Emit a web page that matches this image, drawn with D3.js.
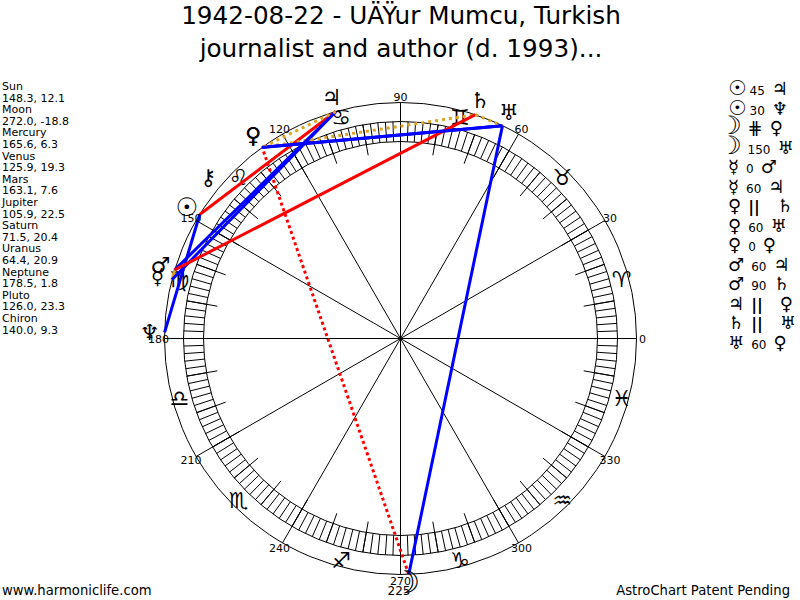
<!DOCTYPE html>
<html>
<head>
<meta charset="utf-8">
<script src="https://cdn.jsdelivr.net/npm/d3@7"></script>
<style>
html, body { margin: 0; padding: 0; background: #fff; overflow: hidden; }
text { font-family: "DejaVu Sans", sans-serif; fill: #000; }
</style>
</head>
<body>
<div id="chart"></div>
<script>
var titleLines = ["1942-08-22 - UÄŸur Mumcu, Turkish", "journalist and author (d. 1993)..."];

// Planets
var planetNames = ["Sun", "Moon", "Mercury", "Venus", "Mars", "Jupiter", "Saturn", "Uranus", "Neptune", "Pluto", "Chiron"];
var planetGlyphs = ["☉", "☽", "☿", "♀", "♂", "♃", "♄", "♅", "♆", "♀", "⚷"];
var longitudes = [148.3, 272.0, 165.6, 125.9, 163.1, 105.9, 71.5, 64.4, 178.5, 126.0, 140.0];
var latitudes = [12.1, -18.8, 6.3, 19.3, 7.6, 22.5, 20.4, 20.9, 1.8, 23.3, 9.3];

// Zodiac signs, one every 30 degrees starting from 15
var signGlyphs = ["♈", "♉", "♊", "♋", "♌", "♍", "♎", "♏", "♐", "♑", "♒", "♓"];

// Aspects: first planet, second planet, kind
var aspectFrom = ["Sun", "Sun", "Moon", "Moon", "Mercury", "Mercury", "Venus", "Venus", "Venus", "Mars", "Mars", "Jupiter", "Saturn", "Uranus"];
var aspectTo = ["Jupiter", "Neptune", "Venus", "Uranus", "Mars", "Jupiter", "Saturn", "Uranus", "Pluto", "Jupiter", "Saturn", "Pluto", "Uranus", "Pluto"];
var aspectKind = ["45", "30", "#", "150", "0", "60", "||", "60", "0", "60", "90", "||", "||", "60"];

var degreeLabels = d3.range(0, 360, 30);

var width = 800, height = 600;
var cx = 400.5, cy = 338.5;
var outerR = 236, ringOuter = 217, ringInner = 197, longTick = 186;

var svg = d3.select("#chart").append("svg")
    .attr("width", width)
    .attr("height", height);

// Angle in degrees goes counter-clockwise from the right hand side
var angle = d3.scaleLinear().domain([0, 360]).range([0, -2 * Math.PI]);
var px = (deg, r) => cx + r * Math.cos(angle(deg));
var py = (deg, r) => cy + r * Math.sin(angle(deg));

// Sun and Moon come out small in this font
var glyphSize = (g, base) => g === "☽" ? base * 1.4 : g === "☉" ? base * 1.15 : base;

// Title
svg.append("g").selectAll("text")
    .data(titleLines)
    .join("text")
      .attr("x", 401)
      .attr("y", (d, i) => 24 + i * 33)
      .attr("text-anchor", "middle")
      .style("font-size", "24.7px")
      .text(d => d);

// Circles
svg.append("g").selectAll("circle")
    .data([outerR, ringOuter, ringInner])
    .join("circle")
      .attr("cx", cx)
      .attr("cy", cy)
      .attr("r", d => d)
      .attr("fill", "none")
      .attr("stroke", "#000");

// Ring ticks every 2 degrees
svg.append("g").selectAll("line")
    .data(d3.range(0, 360, 2))
    .join("line")
      .attr("x1", d => px(d, ringInner))
      .attr("y1", d => py(d, ringInner))
      .attr("x2", d => px(d, ringOuter))
      .attr("y2", d => py(d, ringOuter))
      .attr("stroke", "#000");

// Longer ticks every 10 degrees
svg.append("g").selectAll("line")
    .data(d3.range(0, 360, 10))
    .join("line")
      .attr("x1", d => px(d, longTick))
      .attr("y1", d => py(d, longTick))
      .attr("x2", d => px(d, ringOuter))
      .attr("y2", d => py(d, ringOuter))
      .attr("stroke", "#000");

// Spokes
svg.append("g").selectAll("line")
    .data(degreeLabels)
    .join("line")
      .attr("x1", cx)
      .attr("y1", cy)
      .attr("x2", d => px(d, outerR))
      .attr("y2", d => py(d, outerR))
      .attr("stroke", "#000");

// Zodiac signs
svg.append("g").selectAll("text")
    .data(signGlyphs)
    .join("text")
      .attr("x", (d, i) => px(15 + i * 30, 229))
      .attr("y", (d, i) => py(15 + i * 30, 229) + 8)
      .attr("text-anchor", "middle")
      .style("font-size", "22px")
      .text(d => d + "\uFE0E");

// Aspect lines
function aspectStyle(kind) {
    if (kind === "0" || kind === "||") return { color: "#daa520", dash: kind === "||" ? "3,4" : null };
    if (kind === "#") return { color: "#ff0000", dash: "3,3" };
    if (kind === "45" || kind === "90") return { color: "#ff0000", dash: null };
    return { color: "#0000ff", dash: null };
}
var lon = name => longitudes[planetNames.indexOf(name)];

svg.append("g").selectAll("line")
    .data(aspectKind.map((k, i) => ({ kind: k, a: lon(aspectFrom[i]), b: lon(aspectTo[i]) })))
    .join("line")
      .attr("x1", d => px(d.a, outerR))
      .attr("y1", d => py(d.a, outerR))
      .attr("x2", d => px(d.b, outerR))
      .attr("y2", d => py(d.b, outerR))
      .attr("stroke", d => aspectStyle(d.kind).color)
      .attr("stroke-width", 3)
      .attr("stroke-dasharray", d => aspectStyle(d.kind).dash);

// Degree labels
svg.append("g").selectAll("text")
    .data(degreeLabels)
    .join("text")
      .attr("x", d => px(d, 242))
      .attr("y", d => py(d, 242) + 4)
      .attr("text-anchor", "middle")
      .style("font-size", "11px")
      .text(d => d);

svg.append("text")
    .attr("x", 399)
    .attr("y", 595)
    .attr("text-anchor", "middle")
    .style("font-size", "12px")
    .text("225");

// Planet glyphs (the crescent sits right of its box, so the Moon is pulled back a bit)
svg.append("g").selectAll("text")
    .data(planetGlyphs)
    .join("text")
      .attr("x", (d, i) => px(longitudes[i], 251) - (d === "☽" ? 3 : 0))
      .attr("y", (d, i) => Math.min(py(longitudes[i], 251) + glyphSize(d, 22) * 0.36, 593))
      .attr("text-anchor", "middle")
      .style("font-size", d => glyphSize(d, 22) + "px")
      .text(d => d + "\uFE0E");

// List on the left
var leftLines = [];
planetNames.forEach((n, i) => {
    leftLines.push(n);
    leftLines.push(longitudes[i].toFixed(1) + ", " + latitudes[i].toFixed(1));
});
svg.append("g").selectAll("text")
    .data(leftLines)
    .join("text")
      .attr("x", 2)
      .attr("y", (d, i) => 90 + i * 11.6)
      .style("font-size", "11px")
      .text(d => d);

// Aspect list on the right
var glyphOf = name => planetGlyphs[planetNames.indexOf(name)];
var rows = svg.append("g").selectAll("text")
    .data(aspectKind.map((k, i) => ({ kind: k, a: glyphOf(aspectFrom[i]), b: glyphOf(aspectTo[i]) })))
    .join("text")
      .attr("x", d => d.a === "☽" ? 719 : 728)
      .attr("y", (d, i) => 95 + i * 19.5);
rows.append("tspan").style("font-size", d => glyphSize(d.a, 18) + "px").text(d => d.a + "\uFE0E");
rows.append("tspan").attr("dx", d => d.a === "☽" ? 6 : d.a === "☉" ? 3 : 7)
    .style("font-size", d => d.kind === "#" ? "18px" : d.kind === "||" ? "16px" : "12px")
    .style("font-weight", d => d.kind === "||" ? "bold" : "normal")
    .text(d => d.kind === "#" ? "⋕" : d.kind);
rows.append("tspan").attr("dx", d => d.kind === "||" ? 17 : 7).style("font-size", "18px").text(d => d.b + "\uFE0E");

// Footer
svg.append("text")
    .attr("x", 2)
    .attr("y", 595)
    .style("font-size", "13.2px")
    .text("www.harmoniclife.com");
svg.append("text")
    .attr("x", 790)
    .attr("y", 595)
    .attr("text-anchor", "end")
    .style("font-size", "13.2px")
    .text("AstroChart Patent Pending");
</script>
</body>
</html>
